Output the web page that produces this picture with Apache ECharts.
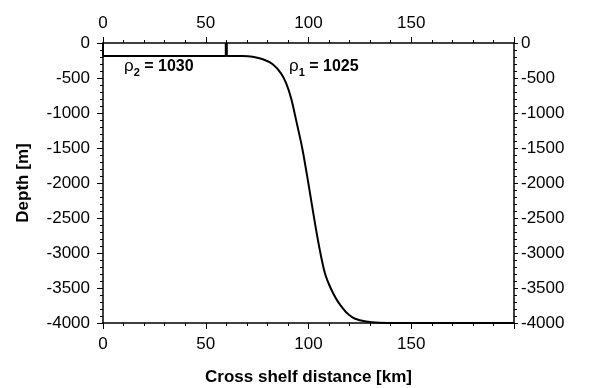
<!DOCTYPE html>
<html><head><meta charset="utf-8">
<script src="https://cdn.jsdelivr.net/npm/echarts@6/dist/echarts.min.js"></script>
<style>html,body{margin:0;padding:0;background:#fff}#c{width:589px;height:388px}</style>
</head><body><div id="c"></div>
<script>
const shelfX = [0, 0, 60, 60];
const shelfY = [0, -185, -185, 0];
const curveX = [60, 68, 72.8, 77.8, 82.6, 86.7, 89.2, 91.6, 94.0, 97.0, 99.7, 102.1, 104.3, 106.2, 108.0, 110.0, 112.0, 114.0, 116.7, 119.5, 122.4, 128.0, 134.5, 145, 200];
const curveY = [-185, -186, -198, -233, -304, -437, -580, -795, -1105, -1510, -1962, -2391, -2770, -3060, -3290, -3450, -3575, -3680, -3790, -3880, -3935, -3978, -3996, -4000, -4000];
const xTicks = [0, 50, 100, 150];
const yTicks = [0, -500, -1000, -1500, -2000, -2500, -3000, -3500, -4000];
const labelRho2 = ['ρ', '2', ' = 1030'];
const labelRho1 = ['ρ', '1', ' = 1025'];

const FONT = 'Liberation Sans, Arial, sans-serif';
const chart = echarts.init(document.getElementById('c'), null, {renderer: 'canvas'});
const axisCommon = {
  axisLine: {show: true, onZero: false, lineStyle: {color: '#000', width: 1.5}},
  axisTick: {show: true, inside: false, length: 6, lineStyle: {color: '#000', width: 1}},
  minorTick: {show: true, splitNumber: 5, length: 3, lineStyle: {color: '#000', width: 1}},
  splitLine: {show: false},
  axisLabel: {color: '#000', fontSize: 17, fontFamily: FONT}
};
const xFmt = v => xTicks.indexOf(v) >= 0 ? String(v) : '';
const yFmt = v => yTicks.indexOf(v) >= 0 ? String(v) : '';
function rich(parts) {
  return '{a|' + parts[0] + '}{s|' + parts[1] + '}{b|' + parts[2] + '}';
}
const richStyle = {
  a: {fontSize: 17, fontFamily: FONT, fill: '#000', verticalAlign: 'bottom'},
  s: {fontSize: 11, fontWeight: 'bold', fontFamily: FONT, fill: '#000', verticalAlign: 'bottom', padding: [0, 0, -3, 0]},
  b: {fontSize: 16, fontWeight: 'bold', fontFamily: FONT, fill: '#000', verticalAlign: 'bottom'}
};
chart.setOption({
  animation: false,
  backgroundColor: '#fff',
  grid: {left: 103, right: 75, top: 43, bottom: 65, containLabel: false, outerBoundsMode: 'none'},
  xAxis: [
    Object.assign({}, axisCommon, {type: 'value', position: 'bottom', min: 0, max: 200, interval: 50,
      name: 'Cross shelf distance [km]', nameLocation: 'middle', nameGap: 46,
      nameTextStyle: {fontSize: 17, fontWeight: 'bold', fontFamily: FONT, color: '#000'},
      axisLabel: Object.assign({}, axisCommon.axisLabel, {margin: 13, formatter: xFmt})}),
    Object.assign({}, axisCommon, {type: 'value', position: 'top', min: 0, max: 200, interval: 50,
      axisLabel: Object.assign({}, axisCommon.axisLabel, {margin: 11, formatter: xFmt})})
  ],
  yAxis: [
    Object.assign({}, axisCommon, {type: 'value', position: 'left', min: -4000, max: 0, interval: 500,
      name: 'Depth [m]', nameLocation: 'middle', nameGap: 71, nameRotate: 90,
      nameTextStyle: {fontSize: 17, fontWeight: 'bold', fontFamily: FONT, color: '#000'},
      axisLabel: Object.assign({}, axisCommon.axisLabel, {margin: 13, formatter: yFmt})}),
    Object.assign({}, axisCommon, {type: 'value', position: 'right', min: -4000, max: 0, interval: 500,
      axisTick: Object.assign({}, axisCommon.axisTick, {length: 4}),
      axisLabel: Object.assign({}, axisCommon.axisLabel, {margin: 7, formatter: yFmt})})
  ],
  series: [
    {type: 'line', xAxisIndex: 0, yAxisIndex: 0, symbol: 'none', silent: true,
      lineStyle: {color: '#000', width: 2}, data: shelfX.slice(0, 3).map((x, i) => [x, shelfY[i]])},
    {type: 'line', xAxisIndex: 0, yAxisIndex: 0, symbol: 'none', silent: true,
      lineStyle: {color: '#000', width: 3}, data: shelfX.slice(2).map((x, i) => [x, shelfY[i + 2]])},
    {type: 'line', xAxisIndex: 0, yAxisIndex: 0, symbol: 'none', silent: true, smooth: 0.3,
      lineStyle: {color: '#000', width: 2}, data: curveX.map((x, i) => [x, curveY[i]])}
  ],
  graphic: [
    {type: 'text', left: 124, top: 58, style: {text: rich(labelRho2), rich: richStyle}},
    {type: 'text', left: 289, top: 58, style: {text: rich(labelRho1), rich: richStyle}}
  ]
});
</script></body></html>
